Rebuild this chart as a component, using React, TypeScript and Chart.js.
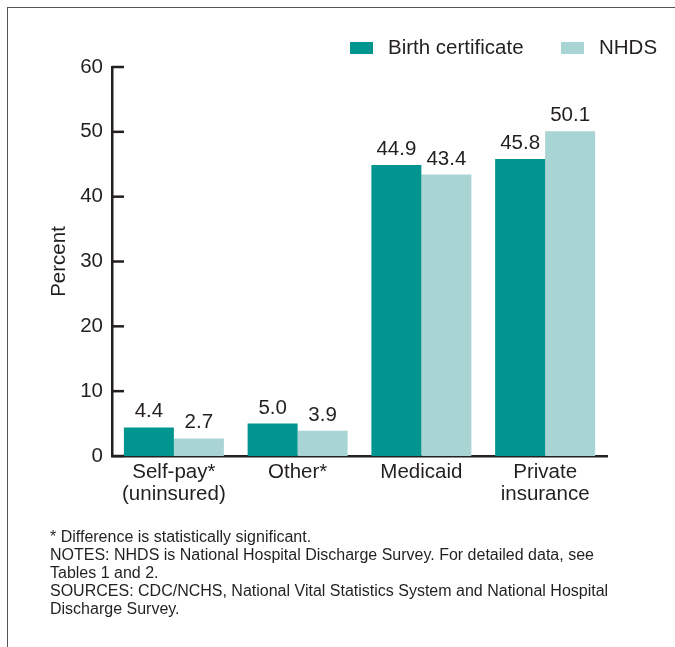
import React, { useEffect, useRef } from "react";
import { Chart, registerables } from "chart.js";

Chart.register(...registerables);

const categories: string[][] = [["Self-pay*", "(uninsured)"], ["Other*"], ["Medicaid"], ["Private", "insurance"]];
const seriesNames = ["Birth certificate", "NHDS"];
const birthCertificate = [4.4, 5.0, 44.9, 45.8];
const nhds = [2.7, 3.9, 43.4, 50.1];
const yTicks = [0, 10, 20, 30, 40, 50, 60];
const footnotes = [
  "* Difference is statistically significant.",
  "NOTES: NHDS is National Hospital Discharge Survey. For detailed data, see",
  "Tables 1 and 2.",
  "SOURCES: CDC/NCHS, National Vital Statistics System and National Hospital",
  "Discharge Survey.",
];

const DARK = "#231f20";
const TEAL = "#00958f";
const LIGHT = "#a8d4d3";
const FONT = "'Liberation Sans', Arial, Helvetica, sans-serif";
const FS = 20.5;

const valueLabels = {
  id: "valueLabels",
  afterDatasetsDraw(chart: any) {
    const ctx = chart.ctx;
    ctx.save();
    ctx.font = `${FS}px ${FONT}`;
    ctx.fillStyle = DARK;
    ctx.textAlign = "center";
    ctx.textBaseline = "alphabetic";
    chart.data.datasets.forEach((ds: any, di: number) => {
      const meta = chart.getDatasetMeta(di);
      meta.data.forEach((bar: any, i: number) => {
        ctx.fillText(Number(ds.data[i]).toFixed(1), bar.x, bar.y - 10);
      });
    });
    ctx.restore();
  },
};

const innerTicks = {
  id: "innerTicks",
  afterDraw(chart: any) {
    const ctx = chart.ctx;
    const y = chart.scales.y;
    const left = chart.chartArea.left;
    ctx.save();
    ctx.strokeStyle = DARK;
    ctx.lineWidth = 2.5;
    y.ticks.forEach((t: any) => {
      const py = y.getPixelForValue(t.value);
      ctx.beginPath();
      ctx.moveTo(left, py);
      ctx.lineTo(left + 12, py);
      ctx.stroke();
    });
    ctx.restore();
  },
};

const customLegend = {
  id: "customLegend",
  afterDraw(chart: any) {
    const ctx = chart.ctx;
    const xs = [341, 552];
    ctx.save();
    ctx.font = `${FS}px ${FONT}`;
    ctx.textBaseline = "middle";
    ctx.textAlign = "left";
    chart.data.datasets.forEach((ds: any, i: number) => {
      ctx.fillStyle = ds.backgroundColor;
      ctx.fillRect(xs[i], 33, 23, 12);
      ctx.fillStyle = DARK;
      ctx.fillText(ds.label, xs[i] + 38, 39.5);
    });
    ctx.restore();
  },
};

export default function App() {
  const ref = useRef<HTMLCanvasElement>(null);
  useEffect(() => {
    if (!ref.current) return;
    const chart = new Chart(ref.current, {
      type: "bar",
      data: {
        labels: categories,
        datasets: [
          { label: seriesNames[0], data: birthCertificate, backgroundColor: TEAL },
          { label: seriesNames[1], data: nhds, backgroundColor: LIGHT },
        ],
      },
      options: {
        animation: false,
        responsive: false,
        maintainAspectRatio: false,
        layout: { padding: { top: 58, right: 52, left: 0, bottom: 0 } },
        plugins: { legend: { display: false }, tooltip: { enabled: false } },
        datasets: { bar: { categoryPercentage: 0.808, barPercentage: 1 } },
        scales: {
          x: {
            grid: { display: false, drawTicks: false },
            border: { display: true, color: DARK, width: 2.5 },
            ticks: {
              color: DARK,
              font: { family: FONT, size: FS, lineHeight: 1.04 },
              padding: 6,
              maxRotation: 0,
              autoSkip: false,
            },
            afterFit(scale: any) {
              scale.height = 73;
            },
          },
          y: {
            min: 0,
            max: 60,
            afterBuildTicks(scale: any) {
              scale.ticks = yTicks.map((v) => ({ value: v }));
            },
            grid: { display: false, drawTicks: false },
            border: { display: true, color: DARK, width: 2.5 },
            ticks: {
              color: DARK,
              font: { family: FONT, size: FS },
              padding: 9,
            },
            title: {
              display: true,
              text: "Percent",
              color: DARK,
              font: { family: FONT, size: FS },
              padding: { top: 38, bottom: 0 },
            },
            afterFit(scale: any) {
              scale.width = 103;
            },
          },
        },
      },
      plugins: [valueLabels, innerTicks, customLegend],
    });
    return () => chart.destroy();
  }, []);

  return (
    <div style={{ position: "relative", width: 659, height: 631, fontFamily: FONT }}>
      <div
        style={{
          position: "fixed",
          left: 7,
          top: 7,
          width: 800,
          height: 800,
          borderLeft: "1px solid #555",
          borderTop: "1px solid #555",
          pointerEvents: "none",
        }}
      />
      <canvas ref={ref} width={650} height={520} style={{ position: "absolute", left: 1, top: 1, width: 650, height: 520 }} />
      <div
        style={{
          position: "absolute",
          left: 42,
          top: 520,
          fontSize: 16,
          lineHeight: "18px",
          color: DARK,
          whiteSpace: "nowrap",
        }}
      >
        {footnotes.map((f, i) => (
          <div key={i}>{f}</div>
        ))}
      </div>
    </div>
  );
}
